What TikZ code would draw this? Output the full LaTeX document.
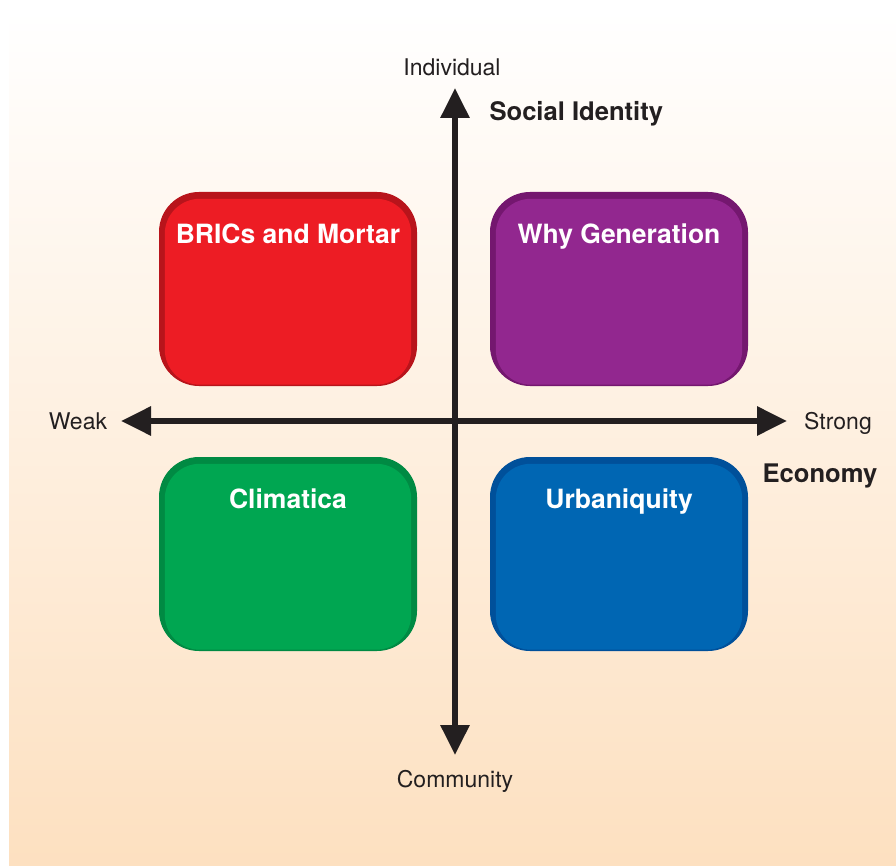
\documentclass[tikz,border=0pt]{standalone}
\usepackage{fontspec}
\setmainfont{TeX Gyre Heros}
\usetikzlibrary{arrows.meta}
\definecolor{txt}{HTML}{231F20}
\definecolor{bgbot}{RGB}{253,224,192}
\definecolor{redF}{HTML}{ED1C24}
\definecolor{redB}{HTML}{B8141B}
\definecolor{purF}{HTML}{92278F}
\definecolor{purB}{HTML}{74176F}
\definecolor{grnF}{HTML}{00A651}
\definecolor{grnB}{HTML}{008A43}
\definecolor{bluF}{HTML}{0066B3}
\definecolor{bluB}{HTML}{00509A}
\tikzset{
  quad/.style={minimum width=258pt, minimum height=194pt, rounded corners=40pt, inner sep=0pt},
  title/.style={text=white, font=\fontsize{26.5}{30}\selectfont\bfseries, anchor=base},
  lab/.style={text=txt, font=\fontsize{23}{27}\selectfont},
  blab/.style={text=txt, font=\fontsize{25.6}{30}\selectfont\bfseries},
  axis/.style={line width=6pt, draw=txt, {Triangle[width=28pt,length=30pt]}-{Triangle[width=28pt,length=30pt]}}
}
\newcommand{\quadbox}[5]{%
  \node[quad, fill=#3] (#1) at #2 {};
  \fill[#4, rounded corners=35pt] ([shift={(6pt,-7pt)}]#1.north west) rectangle ([shift={(-6pt,1.5pt)}]#1.south east);
  \node[title] (#1t) at ([yshift=-52pt]#1.north) {#5};
}
\begin{document}
\begin{tikzpicture}[x=1pt,y=-1pt]
\useasboundingbox (0,0) rectangle (896,866);
\shade[top color=white, bottom color=bgbot] (9,10) rectangle (896,866);
\quadbox{bric}{(288,289)}{redB}{redF}{BRICs and Mortar}
\quadbox{why}{(619,289)}{purB}{purF}{Why Generation}
\quadbox{clim}{(288,554)}{grnB}{grnF}{Climatica}
\quadbox{urb}{(619,554)}{bluB}{bluF}{Urbaniquity}
\coordinate (top) at (455,88);
\coordinate (bot) at (455,755);
\coordinate (lft) at (121,421);
\coordinate (rgt) at (787,421);
\draw[axis] (bot) -- (top);
\draw[axis] (lft) -- (rgt);
\node[lab] (ind) at (452,67) {Individual};
\node[lab] (com) at (455,781) {Community};
\node[lab] (weak) at (78,421) {Weak};
\node[lab] (strong) at (838,423) {Strong};
\node[blab, anchor=west] (soc) at (486,114) {Social Identity};
\node[blab] (eco) at (820,476) {Economy};
\end{tikzpicture}
\end{document}
